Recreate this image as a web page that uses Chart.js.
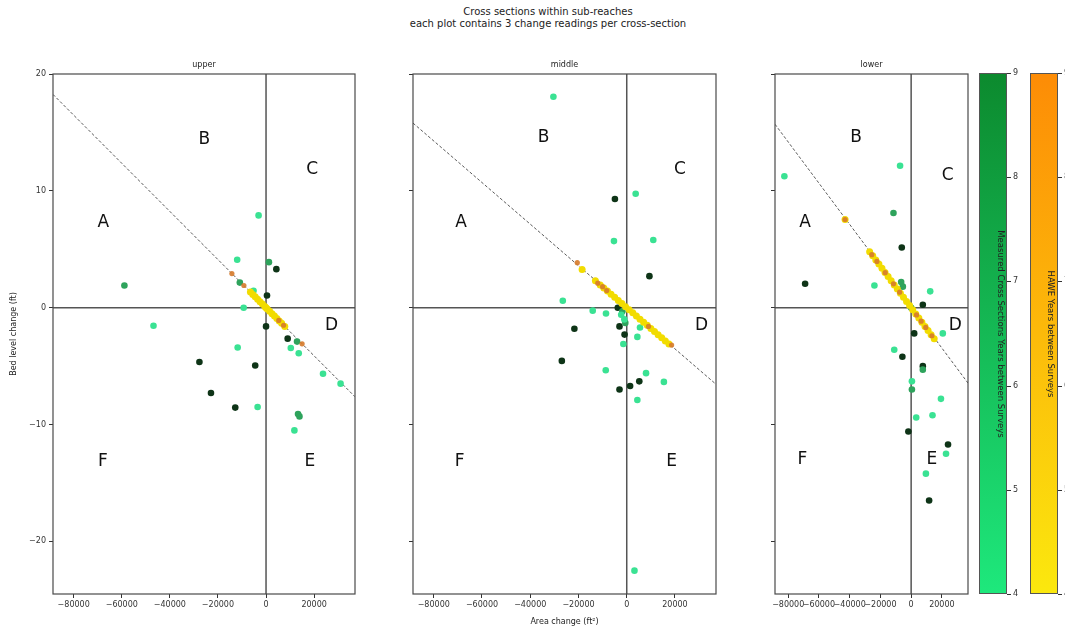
<!DOCTYPE html>
<html>
<head>
<meta charset="utf-8">
<script src="https://cdn.jsdelivr.net/npm/chart.js@4.4.1/dist/chart.umd.min.js"></script>
<style>
  html, body { margin: 0; padding: 0; background: #fff; }
  body { width: 1065px; height: 630px; position: relative; overflow: hidden; font-family: "DejaVu Sans", sans-serif; }
  canvas { position: absolute; }
  #suptitle { position: absolute; left: 348px; width: 400px; top: 6px; text-align: center; font-size: 10px; line-height: 12px; color: #222; }
  .cbar { position: absolute; top: 73px; height: 521px; width: 28px; border: 1px solid #555; box-sizing: border-box; }
  .cbtick { position: absolute; font-size: 8px; line-height: 8px; color: #333; }
  .cbmark { position: absolute; width: 4px; height: 1px; background: #333; }
  .cblabel { position: absolute; white-space: nowrap; font-size: 8.5px; color: #222; transform: translate(-50%, -50%) rotate(90deg); }
</style>
</head>
<body>
<div id="suptitle">Cross sections within sub-reaches<br>each plot contains 3 change readings per cross-section</div>

<canvas id="upper" width="365" height="580" style="left:0px;top:50px"></canvas>
<canvas id="middle" width="366" height="580" style="left:360px;top:50px"></canvas>
<canvas id="lower" width="254" height="580" style="left:722px;top:50px"></canvas>

<div id="cbars"></div>

<script>
// Axis ticks shared by the three panels
const xTicks = [-80000, -60000, -40000, -20000, 0, 20000];
const yTicks = [-20, -10, 0, 10, 20];
const cbarTicks = [4, 5, 6, 7, 8, 9];

// Measured cross sections, [area change ft², bed level change ft]
const upperLight = [[-3100,7.9],[-12000,4.1],[-5200,1.45],[-9300,0.0],[-46800,-1.55],[-11800,-3.4],[-3500,-8.5],[10300,-3.45],[13600,-3.9],[23700,-5.65],[31000,-6.5],[11800,-10.5]];
const upperMid   = [[1200,3.9],[-58900,1.9],[-10900,2.15],[12900,-2.9],[13300,-9.1],[13900,-9.3]];
const upperDark  = [[4300,3.3],[400,1.05],[0,-1.6],[9000,-2.65],[-27700,-4.65],[-4500,-4.95],[-22900,-7.3],[-12800,-8.55]];

const middleLight = [[-30400,18.05],[3700,9.75],[-5300,5.7],[11000,5.8],[-26500,0.6],[-14100,-0.25],[-8600,-0.5],[-2300,-0.6],[-1000,-1.0],[-1400,-3.1],[5500,-1.7],[4400,-2.5],[-8700,-5.35],[8000,-5.6],[15400,-6.35],[4400,-7.9],[3200,-22.5]];
const middleMid   = [[-1800,-0.3],[-600,-1.3]];
const middleDark  = [[-4900,9.3],[9400,2.7],[-3700,0.0],[-3000,-1.6],[-21700,-1.8],[-900,-2.3],[-26900,-4.55],[5200,-6.3],[1400,-6.7],[-3000,-7.0]];

const lowerLight = [[-82500,11.25],[-7200,12.15],[-23900,1.9],[12400,1.4],[20600,-2.2],[-11000,-3.6],[500,-6.3],[19400,-7.8],[3300,-9.4],[13900,-9.2],[22700,-12.5],[9600,-14.2]];
const lowerMid   = [[-11500,8.1],[-6500,2.2],[-5400,1.8],[0,0],[7600,-5.3],[500,-7.0]];
const lowerDark  = [[-6100,5.15],[-69000,2.05],[7600,0.25],[2000,-2.2],[-5700,-4.2],[7600,-5.0],[-1800,-10.6],[24000,-11.7],[11700,-16.5]];

// HAWE readings (short and long survey intervals)
const upperHaweShort = [[-6500,1.34],[-5500,1.13],[-4500,0.93],[-3500,0.72],[-2500,0.52],[-1500,0.31],[-500,0.10],[0,0],[500,-0.10],[1500,-0.31],[2500,-0.52],[3500,-0.72],[4500,-0.93],[5500,-1.13],[6500,-1.34],[7800,-1.61]];
const upperHaweLong  = [[-14200,2.92],[-9200,1.9],[5300,-1.09],[7300,-1.5],[15000,-3.09]];

const middleHaweShort = [[-18500,3.28],[-13000,2.31],[-11000,1.95],[-9500,1.69],[-8000,1.42],[-6500,1.15],[-5000,0.89],[-3500,0.62],[-2000,0.36],[-500,0.09],[1000,-0.18],[2500,-0.44],[4000,-0.71],[5500,-0.98],[7000,-1.24],[8500,-1.51],[10000,-1.78],[11500,-2.04],[13000,-2.31],[14500,-2.57],[16000,-2.84],[17500,-3.11]];
const middleHaweLong  = [[-20500,3.85],[-12000,2.1],[-10000,1.8],[-8300,1.47],[9000,-1.6],[18600,-3.2]];

const lowerHaweShort = [[-43000,7.55],[-27000,4.79],[-25000,4.44],[-23000,4.08],[-21000,3.73],[-19000,3.37],[-17000,3.02],[-15000,2.66],[-13000,2.31],[-11000,1.95],[-9000,1.60],[-7000,1.24],[-5000,0.89],[-3000,0.53],[-1000,0.18],[1000,-0.18],[3000,-0.53],[5000,-0.89],[7000,-1.24],[9000,-1.60],[11000,-1.95],[13000,-2.31],[15000,-2.66]];
const lowerHaweLong  = [[-43000,7.55],[-25600,4.54],[-22300,3.96],[-16900,3.0],[-11500,2.04],[-7500,1.33],[3500,-0.62],[6500,-1.15],[9500,-1.69],[13500,-2.4]];

// Reference lines through the origin
const upperTrend  = [[-88600,18.25],[37000,-7.62]];
const middleTrend = [[-88600,15.8],[37000,-6.55]];
const lowerTrend  = [[-88600,15.7],[37000,-6.45]];

// Region labels per panel: [text, x, y]
const upperRegions  = [['A',-67700,7.3],['B',-25700,14.4],['C',19200,11.8],['D',27200,-1.5],['E',18200,-13.2],['F',-67900,-13.2]];
const middleRegions = [['A',-68700,7.3],['B',-34500,14.6],['C',22000,11.8],['D',31000,-1.5],['E',18600,-13.2],['F',-69300,-13.2]];
const lowerRegions  = [['A',-69000,7.3],['B',-35800,14.6],['C',23700,11.3],['D',28700,-1.5],['E',13500,-13.0],['F',-70700,-13.0]];

const FONT = '"DejaVu Sans", sans-serif';
const minus = v => (v < 0 ? '\u2212' + Math.abs(v) : String(v));
const pts = arr => arr.map(([x, y]) => ({ x, y }));

const COLORS = {
  light: '#3ae293',
  mid: '#2ea35c',
  dark: '#0e3417',
  short: '#f2dc00',
  long: 'rgba(214,122,42,0.9)',
  trend: '#5a5a5a'
};

// Quadrant lines, spines and region letters
const panelDecor = {
  id: 'panelDecor',
  beforeDatasetsDraw(chart) {
    const { ctx, chartArea: a, scales: { x, y } } = chart;
    const x0 = x.getPixelForValue(0), y0 = y.getPixelForValue(0);
    ctx.save();
    ctx.strokeStyle = '#555';
    ctx.lineWidth = 1.5;
    ctx.beginPath();
    ctx.moveTo(x0, a.top); ctx.lineTo(x0, a.bottom);
    ctx.moveTo(a.left, y0); ctx.lineTo(a.right, y0);
    ctx.stroke();
    ctx.restore();
  },
  afterDatasetsDraw(chart, args, opts) {
    const { ctx, chartArea: a, scales: { x, y } } = chart;
    ctx.save();
    ctx.fillStyle = '#111';
    ctx.font = '17px ' + FONT;
    ctx.textAlign = 'center';
    ctx.textBaseline = 'middle';
    (opts.regions || []).forEach(([t, vx, vy]) => {
      ctx.fillText(t, x.getPixelForValue(vx), y.getPixelForValue(vy));
    });
    ctx.strokeStyle = '#4a4a4a';
    ctx.lineWidth = 1.2;
    ctx.strokeRect(a.left, a.top, a.right - a.left, a.bottom - a.top);
    ctx.restore();
  }
};

function makePanel(id, name, sets, trend, regions, showY, xTitle, rightPad) {
  const pointSet = (label, data, color, r, order) => ({
    type: 'scatter', label, data: pts(data), backgroundColor: color, borderColor: color,
    pointRadius: r, pointBorderWidth: 0, pointHoverRadius: r, order
  });
  new Chart(document.getElementById(id), {
    type: 'scatter',
    data: {
      datasets: [
        { type: 'line', label: 'reference', data: pts(trend), borderColor: COLORS.trend, borderWidth: 1,
          borderDash: [3, 2], pointRadius: 0, fill: false, order: 5 },
        pointSet('measured 4-5 yrs', sets.light, COLORS.light, 3.3, 4),
        pointSet('measured 6-7 yrs', sets.mid, COLORS.mid, 3.3, 4),
        pointSet('measured 9 yrs', sets.dark, COLORS.dark, 3.3, 4),
        pointSet('HAWE short', sets.short, COLORS.short, 3.5, 2),
        pointSet('HAWE long', sets.long, COLORS.long, 2.6, 1)
      ]
    },
    options: {
      responsive: false,
      animation: false,
      devicePixelRatio: 1,
      layout: { padding: { left: 0, right: rightPad, top: 0, bottom: 0 } },
      plugins: {
        legend: { display: false },
        tooltip: { enabled: false },
        title: {
          display: true, text: name, fullSize: false, color: '#222',
          font: { size: 8, family: FONT, weight: 'normal' },
          padding: { top: 10, bottom: 4.4 }
        },
        panelDecor: { regions }
      },
      scales: {
        x: {
          type: 'linear', min: -88600, max: 37000,
          afterBuildTicks: s => { s.ticks = xTicks.map(v => ({ value: v })); },
          afterFit: s => { s.height = 36; },
          ticks: { autoSkip: false, maxRotation: 0, minRotation: 0, padding: 2, color: '#333',
                   font: { size: 8, family: FONT }, callback: v => minus(v) },
          grid: { display: true, drawOnChartArea: false, drawTicks: true, tickLength: 4, color: '#333' },
          border: { display: false },
          title: { display: !!xTitle, text: xTitle || '', color: '#222',
                   font: { size: 8, family: FONT }, padding: { top: 0, bottom: 3 } }
        },
        y: {
          type: 'linear', min: -24.5, max: 20,
          afterBuildTicks: s => { s.ticks = yTicks.map(v => ({ value: v })); },
          afterFit: s => { s.width = 53; },
          ticks: { display: showY, padding: 3, color: '#333', font: { size: 8, family: FONT },
                   callback: v => minus(v) },
          grid: { display: true, drawOnChartArea: false, drawTicks: true, tickLength: 4, color: '#333' },
          border: { display: false },
          title: { display: showY, text: 'Bed level change (ft)', color: '#222',
                   font: { size: 8, family: FONT }, padding: { top: 9, bottom: 0 } }
        }
      }
    },
    plugins: [panelDecor]
  });
}

makePanel('upper', 'upper',
  { light: upperLight, mid: upperMid, dark: upperDark, short: upperHaweShort, long: upperHaweLong },
  upperTrend, upperRegions, true, null, 10);
makePanel('middle', 'middle',
  { light: middleLight, mid: middleMid, dark: middleDark, short: middleHaweShort, long: middleHaweLong },
  middleTrend, middleRegions, false, 'Area change (ft\u00B2)', 10);
makePanel('lower', 'lower',
  { light: lowerLight, mid: lowerMid, dark: lowerDark, short: lowerHaweShort, long: lowerHaweLong },
  lowerTrend, lowerRegions, false, null, 8);

// Colour bars for the survey interval (years)
const cbarDefs = [
  { left: 979, top: '#0c8a2e', bottom: '#1ee87c', label: 'Measured Cross Sections Years between Surveys', labelX: 1001 },
  { left: 1030, top: '#fd8c06', bottom: '#fbe80e', label: 'HAWE Years between Surveys', labelX: 1051 }
];
const host = document.getElementById('cbars');
const cbTop = 73, cbBottom = 594;
cbarDefs.forEach(d => {
  const bar = document.createElement('div');
  bar.className = 'cbar';
  bar.style.left = d.left + 'px';
  bar.style.background = `linear-gradient(to bottom, ${d.top}, ${d.bottom})`;
  host.appendChild(bar);
  cbarTicks.forEach(t => {
    const yy = cbBottom - (t - 4) / 5 * (cbBottom - cbTop);
    const m = document.createElement('div');
    m.className = 'cbmark';
    m.style.left = (d.left + 28) + 'px';
    m.style.top = Math.round(yy) + 'px';
    host.appendChild(m);
    const lab = document.createElement('div');
    lab.className = 'cbtick';
    lab.textContent = t;
    lab.style.left = (d.left + 34) + 'px';
    lab.style.top = Math.round(yy - 4) + 'px';
    host.appendChild(lab);
  });
  const lb = document.createElement('div');
  lb.className = 'cblabel';
  lb.textContent = d.label;
  lb.style.left = d.labelX + 'px';
  lb.style.top = ((cbTop + cbBottom) / 2) + 'px';
  host.appendChild(lb);
});
</script>
</body>
</html>
